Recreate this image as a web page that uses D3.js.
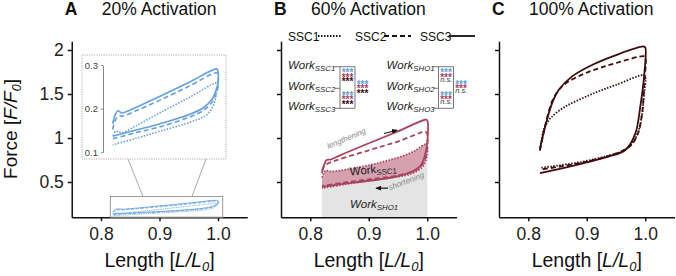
<!DOCTYPE html>
<html>
<head>
<meta charset="utf-8">
<script src="https://cdn.jsdelivr.net/npm/d3@7"></script>
<style>
  body { margin: 0; background: #fff; }
  text { font-family: "Liberation Sans", Arial, sans-serif; }
</style>
</head>
<body>
<script>
// ---- data: [L/L0, F/F0] ----
const xTicks = [0.8, 0.9, 1.0];
const yTicks = [0.5, 1, 1.5, 2];
const insetTicks = [0.1, 0.2, 0.3];
const panelLetters = ["A", "B", "C"];
const panelTitles = ["20% Activation", "60% Activation", "100% Activation"];
const cycleNames = ["SSC1", "SSC2", "SSC3"];
const shoNames = ["SHO1", "SHO2", "SHO3"];

// 20% activation
const a20_ssc1_len = [[0.821,0.138],[0.825,0.148],[0.83,0.147],[0.836,0.145],[0.86,0.161],[0.9,0.19],[0.95,0.225],[0.998,0.259]];
const a20_ssc1_sho = [[1.0,0.255],[0.998,0.24],[0.993,0.21],[0.981,0.186],[0.95,0.168],[0.9,0.148],[0.86,0.132],[0.82,0.117]];
const a20_ssc2_len = [[0.82,0.152],[0.824,0.172],[0.83,0.183],[0.838,0.183],[0.86,0.195],[0.9,0.219],[0.95,0.251],[0.998,0.282]];
const a20_ssc2_sho = [[1.0,0.275],[1.0,0.25],[0.996,0.232],[0.99,0.215],[0.975,0.196],[0.95,0.18],[0.9,0.158],[0.86,0.145],[0.82,0.131]];
const a20_ssc3_len = [[0.82,0.165],[0.824,0.185],[0.829,0.195],[0.836,0.19],[0.845,0.194],[0.9,0.228],[0.95,0.26],[0.998,0.291]];
const a20_ssc3_sho = [[1.0,0.285],[1.0,0.258],[0.996,0.24],[0.99,0.222],[0.975,0.202],[0.95,0.186],[0.9,0.165],[0.86,0.151],[0.82,0.137]];

// 60% activation
const b60_ssc1_len = [[0.82,0.55],[0.823,0.6],[0.827,0.63],[0.835,0.62],[0.85,0.63],[0.9,0.69],[0.93,0.74],[0.96,0.8],[0.98,0.86],[0.997,0.93]];
const b60_ssc1_sho = [[1.0,0.9],[1.0,0.82],[0.996,0.72],[0.99,0.66],[0.975,0.6],[0.95,0.56],[0.9,0.515],[0.86,0.475],[0.82,0.43]];
const b60_ssc2_len = [[0.82,0.63],[0.824,0.68],[0.83,0.71],[0.9,0.86],[0.95,0.96],[0.997,1.07]];
const b60_ssc2_sho = [[1.0,1.05],[1.0,0.9],[0.997,0.78],[0.99,0.69],[0.975,0.62],[0.95,0.575],[0.9,0.53],[0.86,0.495],[0.82,0.455]];
const b60_ssc3_len = [[0.82,0.6],[0.823,0.68],[0.828,0.75],[0.835,0.755],[0.85,0.8],[0.9,0.94],[0.95,1.075],[0.998,1.21]];
const b60_ssc3_sho = [[1.0,1.2],[1.0,0.95],[0.996,0.8],[0.99,0.7],[0.978,0.63],[0.955,0.575],[0.92,0.53],[0.87,0.49],[0.82,0.445]];

// 100% activation
const c100_ssc1_len = [[0.82,0.86],[0.823,0.98],[0.826,1.09],[0.832,1.17],[0.84,1.24],[0.863,1.356],[0.892,1.45],[0.92,1.53],[0.949,1.6],[0.997,1.716]];
const c100_ssc1_sho = [[1.0,1.7],[0.998,1.5],[0.994,1.25],[0.987,1.05],[0.975,0.92],[0.96,0.85],[0.937,0.8],[0.892,0.73],[0.82,0.66]];
const c100_ssc2_len = [[0.82,0.86],[0.826,1.05],[0.833,1.25],[0.843,1.45],[0.86,1.6],[0.892,1.72],[0.92,1.79],[0.949,1.85],[0.997,1.93]];
const c100_ssc2_sho = [[1.0,1.92],[0.998,1.6],[0.995,1.3],[0.988,1.06],[0.976,0.92],[0.96,0.85],[0.937,0.795],[0.892,0.72],[0.82,0.64]];
const c100_ssc3_len = [[0.82,0.88],[0.829,1.13],[0.8405,1.39],[0.852,1.545],[0.875,1.7],[0.909,1.83],[0.949,1.94],[0.997,2.04]];
const c100_ssc3_sho = [[1.0,2.03],[0.998,1.7],[0.9915,1.355],[0.983,1.05],[0.966,0.864],[0.937,0.788],[0.892,0.71],[0.82,0.6]];

// significance labels (rows: 20%, 60%, 100%)
const sigSSC_12 = ["***", "***", "***"];
const sigSSC_23 = ["***", "***", "***"];
const sigSSC_13 = ["***", "***", "***"];
const sigSHO_12 = ["***", "***", "n.s."];
const sigSHO_23 = ["***", "***", "n.s."];
const sigSHO_13 = ["***", "***", "n.s."];

// ---- layout ----
const colors = ["#64a0dc", "#a8445f", "#3c0d0e"];
const dashes = ["1.5,1.5", "5,3", null];
const W = 676, H = 276;
const panelX = [71.75, 281, 499];

const svg = d3.select("body").append("svg").attr("width", W).attr("height", H);

const y = d3.scaleLinear().domain([0.1, 2.1]).range([217.2, 41.2]);
const xs = panelX.map(x0 => d3.scaleLinear().domain([0.75, 1.05]).range([x0, x0 + 175.5]));

const loopsA = [[a20_ssc1_len, a20_ssc1_sho], [a20_ssc2_len, a20_ssc2_sho], [a20_ssc3_len, a20_ssc3_sho]];
const loopsB = [[b60_ssc1_len, b60_ssc1_sho], [b60_ssc2_len, b60_ssc2_sho], [b60_ssc3_len, b60_ssc3_sho]];
const loopsC = [[c100_ssc1_len, c100_ssc1_sho], [c100_ssc2_len, c100_ssc2_sho], [c100_ssc3_len, c100_ssc3_sho]];

function drawLoops(g, x, yS, loops, color, width, dashScale) {
  const line = d3.line().x(d => x(d[0])).y(d => yS(d[1])).curve(d3.curveCatmullRom.alpha(0.5));
  loops.forEach((lp, i) => {
    const p = g.append("path")
      .attr("d", line(lp[0].concat(lp[1])))
      .attr("fill", "none")
      .attr("stroke", color)
      .attr("stroke-width", width)
      .attr("stroke-linejoin", "round");
    if (dashes[i]) p.attr("stroke-dasharray", dashes[i].split(",").map(v => v * dashScale).join(","));
  });
}

// arrow head marker
svg.append("defs").append("marker")
  .attr("id", "arr").attr("viewBox", "0 0 10 10").attr("refX", 8).attr("refY", 5)
  .attr("markerWidth", 5).attr("markerHeight", 5).attr("orient", "auto")
  .append("path").attr("d", "M0,1 L10,5 L0,9 Z").attr("fill", "#111");

// ---- panel B shaded work areas (drawn under the axes) ----
const xB = xs[1];
const lineB = d3.line().x(d => xB(d[0])).y(d => y(d[1])).curve(d3.curveCatmullRom.alpha(0.5));
svg.append("path")
  .attr("d", lineB(b60_ssc1_sho) + `L${xB(0.82)},${y(0.1)}L${xB(1.0)},${y(0.1)}Z`)
  .attr("fill", "#e4e4e4");
svg.append("path")
  .attr("d", lineB(b60_ssc1_len.concat(b60_ssc1_sho)) + "Z")
  .attr("fill", "#d5a0af");

// ---- axes ----
panelLetters.forEach((p, i) => {
  const x = xs[i];
  const gx = svg.append("g")
    .attr("transform", `translate(0,${y.range()[0]})`)
    .call(d3.axisBottom(x).tickValues(xTicks).tickFormat(d3.format(".1f"))
      .tickSize(4).tickSizeOuter(0).tickPadding(6));
  const gy = svg.append("g")
    .attr("transform", `translate(${x.range()[0]},0)`)
    .call(d3.axisLeft(y).tickValues(yTicks).tickFormat(i === 0 ? (d => d) : (() => ""))
      .tickSize(4).tickSizeOuter(0).tickPadding(4));
  [gx, gy].forEach(g => {
    g.attr("font-size", 17.5).attr("font-family", "Liberation Sans, Arial, sans-serif");
    g.selectAll("path, line").attr("stroke", "#111").attr("stroke-width", 1.5);
    g.selectAll("text").attr("fill", "#222");
  });

  // panel title
  svg.append("text").attr("x", x.range()[0] - 7).attr("y", 15)
    .attr("font-size", 17.5).attr("font-weight", "bold").attr("fill", "#111").text(p);
  svg.append("text").attr("x", x.range()[0] + 30).attr("y", 15)
    .attr("font-size", 17.5).attr("fill", "#111").text(panelTitles[i]);

  // x axis title
  const xt = svg.append("text")
    .attr("x", (x.range()[0] + x.range()[1]) / 2).attr("y", 267)
    .attr("text-anchor", "middle").attr("font-size", 19.5).attr("fill", "#111");
  xt.append("tspan").text("Length [");
  xt.append("tspan").attr("font-style", "italic").text("L/L");
  xt.append("tspan").attr("font-style", "italic").attr("font-size", 13).attr("dy", 4).text("0");
  xt.append("tspan").attr("dy", -4).text("]");
});

// y axis title
const yt = svg.append("text")
  .attr("transform", "translate(17,129) rotate(-90)")
  .attr("text-anchor", "middle").attr("font-size", 19).attr("fill", "#111");
yt.append("tspan").text("Force [");
yt.append("tspan").attr("font-style", "italic").text("F/F");
yt.append("tspan").attr("font-style", "italic").attr("font-size", 12.5).attr("dy", 4).text("0");
yt.append("tspan").attr("dy", -4).text("]");

// ---- panel A: zoom box, inset ----
const xA = xs[0];
const gA = svg.append("g");
gA.append("rect")
  .attr("x", xA(0.816)).attr("y", y(0.335))
  .attr("width", xA(1.008) - xA(0.816)).attr("height", y(0.1) - y(0.335))
  .attr("fill", "none").attr("stroke", "#9a9a9a").attr("stroke-width", 1);
drawLoops(gA, xA, y, loopsA, colors[0], 0.9, 0.6);

// connectors
gA.append("line").attr("x1", 128).attr("y1", 159).attr("x2", 143).attr("y2", y(0.335))
  .attr("stroke", "#aaa").attr("stroke-width", 1);
gA.append("line").attr("x1", 206).attr("y1", 159).attr("x2", 192).attr("y2", y(0.335))
  .attr("stroke", "#aaa").attr("stroke-width", 1);

// inset frame
gA.append("rect").attr("x", 82).attr("y", 55).attr("width", 144).attr("height", 104)
  .attr("fill", "#fff").attr("stroke", "#aaa").attr("stroke-width", 1)
  .attr("stroke-dasharray", "1.2,1.2");
const yIn = d3.scaleLinear().domain([0.1, 0.3]).range([152.3, 65]);
const gIn = gA.append("g").attr("transform", "translate(103,0)")
  .call(d3.axisLeft(yIn).tickValues(insetTicks).tickFormat(d3.format(".1f"))
    .tickSize(2).tickSizeOuter(0).tickPadding(3));
gIn.attr("font-size", 9.5).attr("font-family", "Liberation Sans, Arial, sans-serif");
gIn.selectAll("path, line").attr("stroke", "#888").attr("stroke-width", 1);
gIn.selectAll("text").attr("fill", "#444");
drawLoops(gA, xA, yIn, loopsA, colors[0], 1.6, 1);

// ---- panel B ----
const gB = svg.append("g");
drawLoops(gB, xB, y, loopsB, colors[1], 1.8, 1);

// legend of cycles
const legX = [288, 355, 420];
const legLine = [[318, 342], [384, 411], [449, 475]];
cycleNames.forEach((n, i) => {
  gB.append("text").attr("x", legX[i]).attr("y", 40.5).attr("font-size", 12).attr("fill", "#111").text(n);
  const l = gB.append("line").attr("x1", legLine[i][0]).attr("x2", legLine[i][1])
    .attr("y1", 36).attr("y2", 36).attr("stroke", "#111").attr("stroke-width", 1.8);
  if (dashes[i]) l.attr("stroke-dasharray", dashes[i]);
});

// work significance blocks
const rowY = [66.7, 88.3, 108.3];
function workText(g, x, yy, sub, italic, size) {
  const t = g.append("text").attr("x", x).attr("y", yy).attr("font-size", size)
    .attr("font-style", italic ? "italic" : "normal").attr("fill", "#222");
  t.append("tspan").text("Work");
  t.append("tspan").attr("font-size", size * 0.68).attr("dy", size * 0.18).text(sub);
  return t;
}
// one text element per stack of three rows
function sigStack(g, x, center, labels) {
  const t = g.append("text").attr("x", x).attr("y", center);
  labels.forEach((s, k) => {
    const cy = center + (k - 1) * 4.5;
    if (s === "n.s.") {
      t.append("tspan").attr("x", x).attr("y", cy + 2.3).attr("font-size", 7.5)
        .attr("font-style", "italic").attr("fill", "#333").text(s);
    } else {
      t.append("tspan").attr("x", x).attr("y", cy + 5.7).attr("font-size", 10)
        .attr("font-weight", "bold").attr("fill", colors[k]).text(s);
    }
  });
}
function workBlock(x0, subs, s12, s23, s13) {
  const g = svg.append("g");
  const inner = x0 + 52, outer = x0 + 67, tEnd = x0 + 46.5;
  subs.forEach((s, k) => {
    workText(g, x0, rowY[k] + 2, s, true, 11.5);
    g.append("line").attr("x1", tEnd).attr("x2", k === 1 ? inner : outer)
      .attr("y1", rowY[k]).attr("y2", rowY[k]).attr("stroke", "#777");
  });
  g.append("line").attr("x1", inner).attr("x2", inner).attr("y1", rowY[0]).attr("y2", rowY[2]).attr("stroke", "#777");
  g.append("line").attr("x1", outer).attr("x2", outer).attr("y1", rowY[0]).attr("y2", rowY[2]).attr("stroke", "#777");
  sigStack(g, inner + 1.7, (rowY[0] + rowY[1]) / 2 - 2.5, s12);
  sigStack(g, inner + 1.7, (rowY[1] + rowY[2]) / 2 - 1, s23);
  sigStack(g, outer + 1.7, (rowY[0] + rowY[2]) / 2 - 1.2, s13);
}
workBlock(288, cycleNames, sigSSC_12, sigSSC_23, sigSSC_13);
workBlock(386.5, shoNames, sigSHO_12, sigSHO_23, sigSHO_13);

// annotations in panel B
gB.append("text")
  .attr("transform", `translate(${xB(0.831)},${y(0.875)}) rotate(-23)`)
  .attr("font-size", 8).attr("font-style", "italic").attr("fill", "#888").text("lengthening");
gB.append("line").attr("x1", xB(0.926)).attr("y1", y(1.051)).attr("x2", xB(0.948)).attr("y2", y(1.088))
  .attr("stroke", "#111").attr("stroke-width", 1.2).attr("marker-end", "url(#arr)");
gB.append("text")
  .attr("transform", `translate(${xB(0.936)},${y(0.405)}) rotate(-21)`)
  .attr("font-size", 8).attr("font-style", "italic").attr("fill", "#888").text("shortening");
gB.append("line").attr("x1", xB(0.933)).attr("y1", y(0.43)).attr("x2", xB(0.913)).attr("y2", y(0.43))
  .attr("stroke", "#111").attr("stroke-width", 1.2).attr("marker-end", "url(#arr)");
workText(gB, 0, 0, "SSC1", false, 11.5)
  .attr("transform", `translate(${xB(0.868)},${y(0.575)}) rotate(-5)`);
workText(gB, xB(0.868), y(0.205), "SHO1", true, 11.5);

// ---- panel C ----
const gC = svg.append("g");
drawLoops(gC, xs[2], y, loopsC, colors[2], 1.8, 1);
</script>
</body>
</html>
